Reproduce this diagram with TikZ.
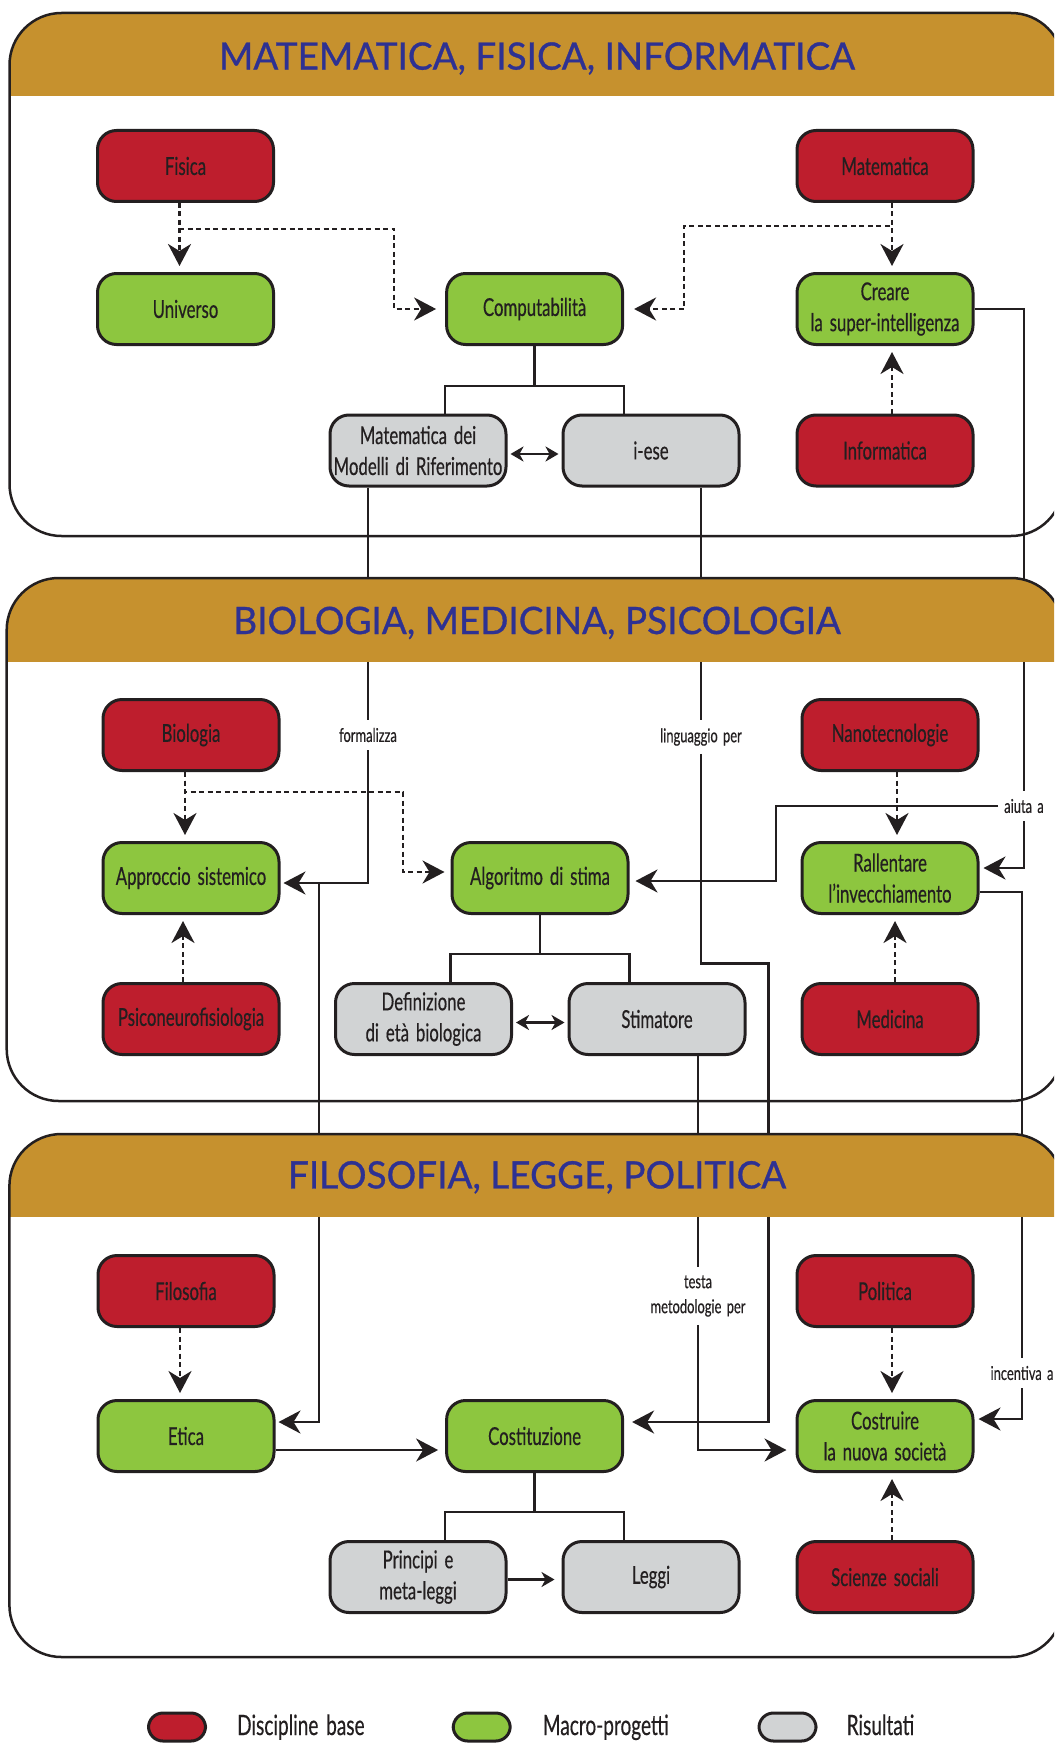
\documentclass[tikz,border=0pt]{standalone}
\usepackage{fontspec}
\setmainfont{Lato}
\newfontfamily\boxfont[FakeStretch=0.68,WordSpace=1.6,FakeBold=0.4]{Lato}
\newfontfamily\headfont[FakeStretch=0.98,FakeBold=0.8]{Lato}
\usetikzlibrary{arrows.meta,positioning}

\definecolor{discred}{HTML}{BE1E2D}
\definecolor{projgreen}{HTML}{8DC63F}
\definecolor{resgrey}{HTML}{D1D3D4}
\definecolor{ochre}{HTML}{C6912E}
\definecolor{navy}{HTML}{2E3192}
\definecolor{ink}{HTML}{231F20}

\tikzset{
  box/.style={draw=ink,line width=3pt,rounded corners=19pt,minimum width=176pt,minimum height=71pt,inner xsep=2pt,align=center,text=ink,font=\boxfont\fontsize{24.7}{31}\selectfont},
  disc/.style={box,fill=discred},
  proj/.style={box,fill=projgreen},
  res/.style={box,fill=resgrey},
  lbl/.style={fill=white,text=ink,align=center,inner xsep=6pt,inner ysep=8pt,font=\boxfont\fontsize{19}{25}\selectfont},
  tie/.style={draw=ink,line width=2.5pt},
  flow/.style={tie,-{Stealth[length=22pt,width=23pt,inset=7pt]},shorten >=6pt},
  feed/.style={flow,dash pattern=on 5pt off 3.5pt},
  pair/.style={tie,{Stealth[length=13pt,width=15pt,inset=4pt]}-{Stealth[length=13pt,width=15pt,inset=4pt]},shorten <=3pt,shorten >=3pt},
  push/.style={tie,-{Stealth[length=13pt,width=15pt,inset=4pt]},shorten >=7pt},
  panel/.style={draw=ink,line width=2.5pt,rounded corners=52pt},
  head/.style={text=navy,anchor=base,inner sep=0pt,font=\headfont\fontsize{37.7}{40}\selectfont},
  key/.style={draw=ink,line width=3pt,rounded corners=14.5pt,minimum width=57pt,minimum height=28pt,inner sep=0pt},
  keytext/.style={text=ink,inner sep=0pt,text height=21pt,text depth=5pt,font=\boxfont\fontsize{28}{30}\selectfont}
}

\begin{document}
\begin{tikzpicture}[x=1pt,y=-1pt]
  \useasboundingbox (0,0) rectangle (1054,1744);
  \clip (0,0) rectangle (1054,1744);

  % matematica, fisica, informatica
  \node[disc] (fisica) at (185.5,166) {Fisica};
  \node[disc] (matematica) at (885,166) {Matematica};
  \node[proj] (universo) at (185.5,309) {Universo};
  \node[proj] (comput) at (534.6,309) {Computabilità};
  \node[proj] (creare) at (885,309) {Creare\\la super-intelligenza};
  \node[res] (mmr) at (418,450.5) {Matematica dei\\Modelli di Riferimento};
  \node[res] (iese) at (651,450.5) {i-ese};
  \node[disc] (informatica) at (885,450.5) {Informatica};

  % biologia, medicina, psicologia
  \node[disc] (biologia) at (191,735) {Biologia};
  \node[disc] (nano) at (890,735) {Nanotecnologie};
  \node[proj] (approccio) at (191,878) {Approccio sistemico};
  \node[proj] (algoritmo) at (540,878) {Algoritmo di stima};
  \node[proj] (rallentare) at (890,878) {Rallentare\\l’invecchiamento};
  \node[disc] (psico) at (191,1019) {Psiconeurofisiologia};
  \node[res] (definizione) at (423.5,1019) {Definizione\\di età biologica};
  \node[res] (stimatore) at (657,1019) {Stimatore};
  \node[disc] (medicina) at (890,1019) {Medicina};

  % filosofia, legge, politica
  \node[disc] (filosofia) at (186,1291) {Filosofia};
  \node[disc] (politica) at (885,1291) {Politica};
  \node[proj] (etica) at (186,1436) {Etica};
  \node[proj] (costituzione) at (534.6,1436) {Costituzione};
  \node[proj] (costruire) at (885,1436) {Costruire\\la nuova società};
  \node[res] (principi) at (418,1577) {Principi e\\meta-leggi};
  \node[res] (leggi) at (651,1577) {Leggi};
  \node[disc] (scienze) at (885,1577) {Scienze sociali};

  % etichette dei legami
  \node[lbl] (formalizza) at (368,735) {formalizza};
  \node[lbl] (linguaggio) at (701,737) {linguaggio per};
  \node[lbl] (aiuta) at (1024,806) {aiuta a};
  \node[lbl] (testa) at (698,1296) {testa\\metodologie per};
  \node[lbl] (incentiva) at (1022,1373) {incentiva a};

  % legami del primo riquadro
  \draw[feed] ([xshift=-6pt]fisica.south) -- ([xshift=-6pt]universo.north);
  \coordinate (fisbend) at (394,229);
  \draw[feed,shorten >=9pt] ([xshift=-6pt]fisica.south) |- (fisbend) |- (comput.west);
  \draw[feed] ([xshift=7pt]matematica.south) -- ([xshift=7pt]creare.north);
  \coordinate (matbend) at (684,226);
  \draw[feed,shorten >=10pt] ([xshift=7pt]matematica.south) |- (matbend) |- (comput.east);
  \draw[feed] ([xshift=7pt]informatica.north) -- ([xshift=7pt]creare.south);
  \coordinate (ctree) at ([yshift=-40pt]comput.south);
  \draw[tie] (comput.south) -- (ctree);
  \draw[tie] (mmr.north -| comput.west) |- (ctree) -| (iese.north -| comput.east);
  \draw[pair] ([yshift=-3.5pt]mmr.east) -- ([yshift=-3.5pt]iese.west);

  % legami tra i riquadri
  \draw[tie] (mmr.south -| formalizza) -- (formalizza.north);
  \draw[flow,shorten >=3pt] (formalizza.south) |- ([yshift=-5pt]approccio.east);
  \coordinate (formfork) at (319,883);
  \draw[flow,shorten >=3pt] (formfork) |- ([yshift=14pt]etica.east);
  \draw[tie] (iese.south -| linguaggio) -- (linguaggio.north);
  \coordinate (lingjog) at (768.5,963.6);
  \draw[flow,shorten >=8pt] (linguaggio.south) |- (lingjog) |- ([yshift=14pt]costituzione.east);
  \draw[tie] (creare.east) -| (aiuta.north);
  \draw[flow,shorten >=4pt] (aiuta.south) |- ([yshift=10pt]rallentare.east);
  \coordinate (aiutabend) at (776,806);
  \draw[flow] (aiuta.west) -- (aiutabend) |- ([yshift=-3pt]algoritmo.east);
  \draw[tie] ([yshift=-14pt]rallentare.east) -| (incentiva.north);
  \draw[flow,shorten >=4pt] (incentiva.south) |- ([yshift=17pt]costruire.east);
  \draw[tie] (stimatore.south -| testa) -- (testa.north);
  \draw[flow,shorten >=9pt] (testa.south) |- ([yshift=-14pt]costruire.west);

  % legami del secondo riquadro
  \draw[feed] ([xshift=-6pt]biologia.south) -- ([xshift=-6pt]approccio.north);
  \coordinate (biobend) at (403,792);
  \draw[feed] ([xshift=-6pt]biologia.south) |- (biobend) |- ([yshift=6pt]algoritmo.west);
  \draw[feed] ([xshift=-8pt]psico.north) -- ([xshift=-8pt]approccio.south);
  \draw[feed] ([xshift=7pt]nano.south) -- ([xshift=7pt]rallentare.north);
  \draw[feed] ([xshift=5pt]medicina.north) -- ([xshift=5pt]rallentare.south);
  \coordinate (atree) at ([yshift=-39pt]algoritmo.south);
  \draw[tie] (algoritmo.south) -- (atree);
  \draw[tie] (definizione.north -| algoritmo.west) |- (atree) -| (stimatore.north -| algoritmo.east);
  \draw[pair] ([yshift=-3.5pt]definizione.east) -- ([yshift=-3.5pt]stimatore.west);

  % legami del terzo riquadro
  \draw[feed] ([xshift=-6pt]filosofia.south) -- ([xshift=-6pt]etica.north);
  \draw[flow,shorten >=7pt] ([yshift=-14pt]etica.east) -- ([yshift=-14pt]costituzione.west);
  \coordinate (ktree) at ([yshift=-39pt]costituzione.south);
  \draw[tie] (costituzione.south) -- (ktree);
  \draw[tie] (principi.north -| costituzione.west) |- (ktree) -| (leggi.north -| costituzione.east);
  \draw[push] ([yshift=-2.5pt]principi.east) -- ([yshift=-2.5pt]leggi.west);
  \draw[feed] ([xshift=7pt]politica.south) -- ([xshift=7pt]costruire.north);
  \draw[feed] ([xshift=7pt]scienze.north) -- ([xshift=7pt]costruire.south);

  % riquadri con le testate
  \begin{scope}
    \clip[rounded corners=52pt] (9.5,13) rectangle (1063,536);
    \fill[ochre] (9.5,13) rectangle (1063,96);
  \end{scope}
  \draw[panel] (9.5,13) rectangle (1063,536);
  \node[head] (head1) at (537,69.6) {MATEMATICA, FISICA, INFORMATICA};

  \begin{scope}
    \clip[rounded corners=52pt] (6.7,578) rectangle (1063,1101);
    \fill[ochre] (6.7,578) rectangle (1063,662);
  \end{scope}
  \draw[panel] (6.7,578) rectangle (1063,1101);
  \node[head] (head2) at (537,634) {BIOLOGIA, MEDICINA, PSICOLOGIA};

  \begin{scope}
    \clip[rounded corners=52pt] (9.4,1134) rectangle (1063,1657);
    \fill[ochre] (9.4,1134) rectangle (1063,1217);
  \end{scope}
  \draw[panel] (9.4,1134) rectangle (1063,1657);
  \node[head] (head3) at (537,1188.4) {FILOSOFIA, LEGGE, POLITICA};

  % legenda
  \node[key,fill=discred] (kdisc) at (177,1727) {};
  \node[keytext,right=30pt of kdisc] (tdisc) {Discipline base};
  \node[key,fill=projgreen] (kproj) at (481.7,1727) {};
  \node[keytext,right=31pt of kproj] (tproj) {Macro-progetti};
  \node[key,fill=resgrey] (kres) at (787.5,1727) {};
  \node[keytext,right=29pt of kres] (tres) {Risultati};
\end{tikzpicture}
\end{document}
